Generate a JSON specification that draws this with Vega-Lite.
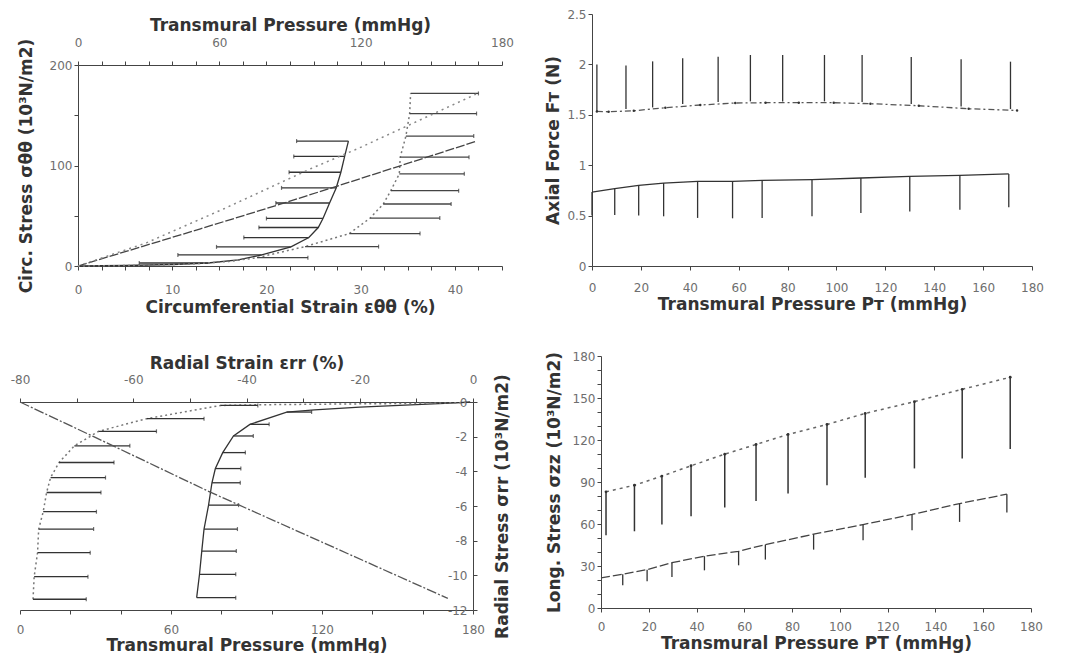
{
  "$schema": "https://vega.github.io/schema/vega-lite/v6.json",
  "background": "white",
  "padding": {"left": 10, "top": 8, "right": 0, "bottom": 0},
  "config": {
    "view": {"stroke": null},
    "axis": {
      "grid": false, "domainColor": "#444", "tickColor": "#444", "tickSize": 4,
      "labelColor": "#6e6e6e", "labelFont": "DejaVu Sans", "labelFontSize": 12,
      "labelOverlap": false, "labelFlush": false,
      "titleFont": "DejaVu Sans", "titleFontSize": 17, "titleFontWeight": "bold", "titleColor": "#333"
    }
  },
  "datasets": {
    "p1A": [
      {"strain": 0, "stress": 0}, {"strain": 5, "stress": 0.5}, {"strain": 10, "stress": 1.5},
      {"strain": 13.8, "stress": 3, "lo": 6.5}, {"strain": 17, "stress": 6},
      {"strain": 19.5, "stress": 11, "lo": 10.6}, {"strain": 22.6, "stress": 19, "lo": 14.7},
      {"strain": 24.5, "stress": 28.3, "lo": 17.6}, {"strain": 25.5, "stress": 38.3, "lo": 19.2},
      {"strain": 26.0, "stress": 47.3, "lo": 20.0}, {"strain": 26.7, "stress": 62.7, "lo": 21.0},
      {"strain": 27.4, "stress": 77.7, "lo": 21.6}, {"strain": 27.9, "stress": 93.3, "lo": 22.4},
      {"strain": 28.3, "stress": 109, "lo": 22.9}, {"strain": 28.7, "stress": 124.3, "lo": 23.2}
    ],
    "p1B": [
      {"strain": 0, "stress": 0}, {"strain": 6, "stress": 0.5}, {"strain": 12, "stress": 2},
      {"strain": 16, "stress": 4.5}, {"strain": 19, "stress": 8.3, "hi": 24.4},
      {"strain": 24.1, "stress": 19.3, "hi": 31.9}, {"strain": 28.8, "stress": 32.3, "hi": 36.3},
      {"strain": 31.0, "stress": 47.7, "hi": 38.4}, {"strain": 32.4, "stress": 61.7, "hi": 39.6},
      {"strain": 33.2, "stress": 75, "hi": 40.4}, {"strain": 34.1, "stress": 91.7, "hi": 41.0},
      {"strain": 34.2, "stress": 108.3, "hi": 41.5}, {"strain": 34.8, "stress": 129.3, "hi": 42.0},
      {"strain": 35.2, "stress": 151.7, "hi": 42.3}, {"strain": 35.3, "stress": 171.7, "hi": 42.5}
    ],
    "p1C": [
      {"p": 0, "stress": 0}, {"p": 52, "stress": 37}, {"p": 88, "stress": 63},
      {"p": 120, "stress": 87}, {"p": 169, "stress": 124}
    ],
    "p1D": [
      {"p": 0, "stress": 0}, {"p": 29, "stress": 23}, {"p": 62, "stress": 57},
      {"p": 99, "stress": 97}, {"p": 119, "stress": 117}, {"p": 169, "stress": 171}
    ],
    "p2U": [
      {"p": 2.0, "f": 1.533}, {"p": 6.8, "f": 1.53}, {"p": 17.1, "f": 1.54}, {"p": 30.0, "f": 1.57},
      {"p": 44.3, "f": 1.597}, {"p": 58.6, "f": 1.617}, {"p": 71.0, "f": 1.62}, {"p": 84.6, "f": 1.62},
      {"p": 98.9, "f": 1.62}, {"p": 113.9, "f": 1.61}, {"p": 133.7, "f": 1.59}, {"p": 154.1, "f": 1.56},
      {"p": 173.9, "f": 1.543}
    ],
    "p2Ubars": [
      {"p": 2.0, "lo": 1.533, "hi": 2.0}, {"p": 13.9, "lo": 1.557, "hi": 1.99},
      {"p": 24.8, "lo": 1.573, "hi": 2.03}, {"p": 37.1, "lo": 1.607, "hi": 2.06},
      {"p": 51.6, "lo": 1.627, "hi": 2.077}, {"p": 64.8, "lo": 1.633, "hi": 2.093},
      {"p": 78.0, "lo": 1.633, "hi": 2.093}, {"p": 95.1, "lo": 1.633, "hi": 2.093},
      {"p": 110.5, "lo": 1.627, "hi": 2.093}, {"p": 130.6, "lo": 1.607, "hi": 2.073},
      {"p": 151.0, "lo": 1.583, "hi": 2.05}, {"p": 171.2, "lo": 1.557, "hi": 2.027}
    ],
    "p2L": [
      {"p": 0, "f": 0.733, "lo": 0.5}, {"p": 9.3, "f": 0.767, "lo": 0.507},
      {"p": 19.1, "f": 0.80, "lo": 0.50}, {"p": 29.3, "f": 0.823, "lo": 0.493},
      {"p": 43.2, "f": 0.84, "lo": 0.477}, {"p": 57.5, "f": 0.84, "lo": 0.473},
      {"p": 69.6, "f": 0.85, "lo": 0.477}, {"p": 90.0, "f": 0.857, "lo": 0.493},
      {"p": 110.0, "f": 0.873, "lo": 0.527}, {"p": 130.0, "f": 0.89, "lo": 0.54},
      {"p": 150.5, "f": 0.90, "lo": 0.557}, {"p": 170.5, "f": 0.913, "lo": 0.583}
    ],
    "p3L": [
      {"strain": -1, "rs": -0.03}, {"strain": -10, "rs": -0.08}, {"strain": -25, "rs": -0.12},
      {"strain": -38, "rs": -0.16}, {"strain": -44.6, "rs": -0.2, "hi": -38},
      {"strain": -57.6, "rs": -0.96, "hi": -47.5}, {"strain": -66.1, "rs": -1.69, "hi": -55.9},
      {"strain": -70.4, "rs": -2.53, "hi": -60.6}, {"strain": -73.1, "rs": -3.49, "hi": -63.4},
      {"strain": -74.6, "rs": -4.36, "hi": -64.9}, {"strain": -75.3, "rs": -5.22, "hi": -65.7},
      {"strain": -75.9, "rs": -6.33, "hi": -66.5}, {"strain": -76.7, "rs": -7.33, "hi": -67.0},
      {"strain": -76.9, "rs": -8.69, "hi": -67.6}, {"strain": -77.5, "rs": -10.08, "hi": -68.0},
      {"strain": -77.7, "rs": -11.38, "hi": -68.3}
    ],
    "p3R": [
      {"strain": -0.5, "rs": 0}, {"strain": -3, "rs": -0.05}, {"strain": -10, "rs": -0.15},
      {"strain": -20, "rs": -0.3}, {"strain": -28, "rs": -0.45},
      {"strain": -32.9, "rs": -0.58, "hi": -28.5}, {"strain": -39.4, "rs": -1.29, "hi": -36.0},
      {"strain": -42.3, "rs": -1.96, "hi": -38.8}, {"strain": -44.2, "rs": -2.92, "hi": -40.2},
      {"strain": -45.5, "rs": -3.84, "hi": -41.0}, {"strain": -46.1, "rs": -4.66, "hi": -41.1},
      {"strain": -46.7, "rs": -5.95, "hi": -41.4}, {"strain": -47.5, "rs": -7.33, "hi": -41.6},
      {"strain": -47.9, "rs": -8.6, "hi": -41.8}, {"strain": -48.3, "rs": -9.94, "hi": -41.9},
      {"strain": -48.8, "rs": -11.29, "hi": -41.9}
    ],
    "p3P": [
      {"p": 0, "rs": 0}, {"p": 29.3, "rs": -2.0}, {"p": 75.6, "rs": -5.2}, {"p": 170, "rs": -11.33}
    ],
    "p4U": [
      {"p": 2.1, "s": 83.0, "lo": 52.0}, {"p": 14.0, "s": 87.7, "lo": 54.8},
      {"p": 25.5, "s": 94.2, "lo": 59.6}, {"p": 37.7, "s": 101.6, "lo": 65.6},
      {"p": 51.8, "s": 109.9, "lo": 71.8}, {"p": 64.9, "s": 116.8, "lo": 76.5},
      {"p": 78.3, "s": 124.0, "lo": 81.8}, {"p": 94.6, "s": 131.1, "lo": 87.7},
      {"p": 110.6, "s": 139.0, "lo": 93.0}, {"p": 131.2, "s": 147.4, "lo": 99.7},
      {"p": 151.2, "s": 156.2, "lo": 106.8}, {"p": 171.3, "s": 164.8, "lo": 113.5}
    ],
    "p4L": [
      {"p": 0, "s": 21.5}, {"p": 9.1, "s": 24.1, "lo": 16.2}, {"p": 19.3, "s": 27.4, "lo": 19.1},
      {"p": 29.7, "s": 32.4, "lo": 22.2}, {"p": 43.3, "s": 37.0, "lo": 26.9},
      {"p": 57.6, "s": 40.5, "lo": 30.5}, {"p": 68.8, "s": 45.3, "lo": 34.6},
      {"p": 89.0, "s": 52.7, "lo": 41.7}, {"p": 109.7, "s": 59.6, "lo": 48.4},
      {"p": 130.2, "s": 66.8, "lo": 55.6}, {"p": 150.1, "s": 74.6, "lo": 61.5},
      {"p": 169.9, "s": 81.3, "lo": 68.2}
    ]
  },
  "columns": 2,
  "spacing": {"row": 35, "column": 30},
  "concat": [
    {
      "width": 482, "height": 252,
      "resolve": {"scale": {"x": "independent"}},
      "layer": [
        {
          "data": {"name": "p1A"},
          "mark": {"type": "line", "color": "#333", "strokeWidth": 1.3},
          "encoding": {
            "x": {"field": "strain", "type": "quantitative", "scale": {"domain": [0, 45], "nice": false, "range": [58, 482]},
              "axis": {"orient": "bottom", "title": "Circumferential Strain εθθ (%)",
                "values": [0,2.5,5,7.5,10,12.5,15,17.5,20,22.5,25,27.5,30,32.5,35,37.5,40,42.5,45],
                "labelExpr": "datum.value % 10 == 0 && datum.value < 45 ? datum.label : ''",
                "labelOverlap": false, "labelPadding": 14, "titlePadding": 4}},
            "y": {"field": "stress", "type": "quantitative", "scale": {"domain": [0, 200], "nice": false, "range": [252, 51]},
              "axis": {"title": "Circ. Stress σθθ (10³N/m2)", "offset": -58,
                "values": [0,25,50,75,100,125,150,175,200],
                "labelExpr": "datum.value % 100 == 0 ? datum.label : ''",
                "labelOverlap": false, "titlePadding": 14}}
          }
        },
        {
          "data": {"name": "p1A"},
          "transform": [{"filter": "isValid(datum.lo)"}],
          "mark": {"type": "rule", "color": "#333", "strokeWidth": 1.3},
          "encoding": {
            "x": {"field": "lo", "type": "quantitative", "scale": {"domain": [0, 45], "nice": false, "range": [58, 482]}, "axis": null},
            "x2": {"field": "strain"},
            "y": {"field": "stress", "type": "quantitative", "scale": {"domain": [0, 200], "nice": false, "range": [252, 51]}}
          }
        },
        {
          "data": {"name": "p1A"},
          "transform": [{"filter": "isValid(datum.lo)"}],
          "mark": {"type": "tick", "orient": "vertical", "size": 4, "thickness": 1.2, "color": "#333"},
          "encoding": {
            "x": {"field": "lo", "type": "quantitative", "scale": {"domain": [0, 45], "nice": false, "range": [58, 482]}, "axis": null},
            "y": {"field": "stress", "type": "quantitative", "scale": {"domain": [0, 200], "nice": false, "range": [252, 51]}}
          }
        },
        {
          "data": {"name": "p1B"},
          "mark": {"type": "line", "color": "#777", "strokeWidth": 1.5, "strokeDash": [2, 3]},
          "encoding": {
            "x": {"field": "strain", "type": "quantitative", "scale": {"domain": [0, 45], "nice": false, "range": [58, 482]}, "axis": null},
            "y": {"field": "stress", "type": "quantitative", "scale": {"domain": [0, 200], "nice": false, "range": [252, 51]}}
          }
        },
        {
          "data": {"name": "p1B"},
          "transform": [{"filter": "isValid(datum.hi)"}],
          "mark": {"type": "rule", "color": "#444", "strokeWidth": 1.3},
          "encoding": {
            "x": {"field": "strain", "type": "quantitative", "scale": {"domain": [0, 45], "nice": false, "range": [58, 482]}, "axis": null},
            "x2": {"field": "hi"},
            "y": {"field": "stress", "type": "quantitative", "scale": {"domain": [0, 200], "nice": false, "range": [252, 51]}}
          }
        },
        {
          "data": {"name": "p1B"},
          "transform": [{"filter": "isValid(datum.hi)"}],
          "mark": {"type": "tick", "orient": "vertical", "size": 4, "thickness": 1.2, "color": "#333"},
          "encoding": {
            "x": {"field": "hi", "type": "quantitative", "scale": {"domain": [0, 45], "nice": false, "range": [58, 482]}, "axis": null},
            "y": {"field": "stress", "type": "quantitative", "scale": {"domain": [0, 200], "nice": false, "range": [252, 51]}}
          }
        },
        {
          "data": {"name": "p1C"},
          "mark": {"type": "line", "color": "#444", "strokeWidth": 1.3, "strokeDash": [9, 2]},
          "encoding": {
            "x": {"field": "p", "type": "quantitative", "scale": {"domain": [0, 180], "nice": false, "range": [58, 482]},
              "axis": {"orient": "top", "title": "Transmural Pressure (mmHg)", "offset": -51,
                "values": [0,10,20,30,40,50,60,70,80,90,100,110,120,130,140,150,160,170,180],
                "labelExpr": "datum.value % 60 == 0 ? datum.label : ''",
                "labelOverlap": false, "labelPadding": 12, "titlePadding": 2}},
            "y": {"field": "stress", "type": "quantitative", "scale": {"domain": [0, 200], "nice": false, "range": [252, 51]}}
          }
        },
        {
          "data": {"name": "p1D"},
          "mark": {"type": "line", "color": "#888", "strokeWidth": 1.5, "strokeDash": [2, 4]},
          "encoding": {
            "x": {"field": "p", "type": "quantitative", "scale": {"domain": [0, 180], "nice": false, "range": [58, 482]}, "axis": null},
            "y": {"field": "stress", "type": "quantitative", "scale": {"domain": [0, 200], "nice": false, "range": [252, 51]}}
          }
        }
      ]
    },
    {
      "width": 440, "height": 252,
      "layer": [
        {
          "data": {"name": "p2L"},
          "mark": {"type": "line", "color": "#333", "strokeWidth": 1.3},
          "encoding": {
            "x": {"field": "p", "type": "quantitative", "scale": {"domain": [0, 180], "nice": false},
              "axis": {"title": "Transmural Pressure Pᴛ (mmHg)",
                "values": [0,10,20,30,40,50,60,70,80,90,100,110,120,130,140,150,160,170,180],
                "labelExpr": "datum.value % 20 == 0 ? datum.label : ''",
                "labelOverlap": false, "labelPadding": 12, "titlePadding": 3}},
            "y": {"field": "f", "type": "quantitative", "scale": {"domain": [0, 2.5], "nice": false},
              "axis": {"title": "Axial Force Fᴛ (N)",
                "values": [0,0.25,0.5,0.75,1,1.25,1.5,1.75,2,2.25,2.5],
                "labelExpr": "datum.value % 0.5 == 0 ? format(datum.value, '~g') : ''",
                "labelOverlap": false, "titlePadding": 4}}
          }
        },
        {
          "data": {"name": "p2L"},
          "mark": {"type": "rule", "color": "#333", "strokeWidth": 1.3},
          "encoding": {
            "x": {"field": "p", "type": "quantitative", "scale": {"domain": [0, 180], "nice": false}},
            "y": {"field": "lo", "type": "quantitative", "scale": {"domain": [0, 2.5], "nice": false}},
            "y2": {"field": "f"}
          }
        },
        {
          "data": {"name": "p2U"},
          "mark": {"type": "line", "color": "#555", "strokeWidth": 1.3, "strokeDash": [6, 3, 2, 3],
            "point": {"filled": true, "size": 6, "color": "#333"}},
          "encoding": {
            "x": {"field": "p", "type": "quantitative", "scale": {"domain": [0, 180], "nice": false}},
            "y": {"field": "f", "type": "quantitative", "scale": {"domain": [0, 2.5], "nice": false}}
          }
        },
        {
          "data": {"name": "p2Ubars"},
          "mark": {"type": "rule", "color": "#333", "strokeWidth": 1.3},
          "encoding": {
            "x": {"field": "p", "type": "quantitative", "scale": {"domain": [0, 180], "nice": false}},
            "y": {"field": "lo", "type": "quantitative", "scale": {"domain": [0, 2.5], "nice": false}},
            "y2": {"field": "hi"}
          }
        }
      ]
    },
    {
      "width": 453, "height": 254,
      "resolve": {"scale": {"x": "independent"}},
      "layer": [
        {
          "data": {"name": "p3R"},
          "mark": {"type": "line", "color": "#333", "strokeWidth": 1.3},
          "encoding": {
            "x": {"field": "strain", "type": "quantitative", "scale": {"domain": [-80, 0], "nice": false},
              "axis": {"orient": "top", "title": "Radial Strain εrr (%)", "offset": -46,
                "values": [-80,-70,-60,-50,-40,-30,-20,-10,0],
                "labelExpr": "datum.value % 20 == 0 ? '' + datum.value : ''",
                "labelOverlap": false, "labelPadding": 12, "titlePadding": 1}},
            "y": {"field": "rs", "type": "quantitative", "scale": {"domain": [-12, 0], "nice": false, "range": [254, 46]},
              "axis": {"orient": "right", "title": "Radial Stress σrr (10³N/m2)",
                "values": [-12,-11,-10,-9,-8,-7,-6,-5,-4,-3,-2,-1,0],
                "labelExpr": "datum.value % 2 == 0 ? '' + datum.value : ''",
                "labelOverlap": false, "labelAlign": "right", "labelPadding": -10,
                "titleAngle": 270, "titleBaseline": "top", "titlePadding": 17}}
          }
        },
        {
          "data": {"name": "p3R"},
          "transform": [{"filter": "isValid(datum.hi)"}],
          "mark": {"type": "rule", "color": "#333", "strokeWidth": 1.3},
          "encoding": {
            "x": {"field": "strain", "type": "quantitative", "scale": {"domain": [-80, 0], "nice": false}, "axis": null},
            "x2": {"field": "hi"},
            "y": {"field": "rs", "type": "quantitative", "scale": {"domain": [-12, 0], "nice": false, "range": [254, 46]}}
          }
        },
        {
          "data": {"name": "p3R"},
          "transform": [{"filter": "isValid(datum.hi)"}],
          "mark": {"type": "tick", "orient": "vertical", "size": 4, "thickness": 1.2, "color": "#333"},
          "encoding": {
            "x": {"field": "hi", "type": "quantitative", "scale": {"domain": [-80, 0], "nice": false}, "axis": null},
            "y": {"field": "rs", "type": "quantitative", "scale": {"domain": [-12, 0], "nice": false, "range": [254, 46]}}
          }
        },
        {
          "data": {"name": "p3L"},
          "mark": {"type": "line", "color": "#777", "strokeWidth": 1.5, "strokeDash": [2, 3]},
          "encoding": {
            "x": {"field": "strain", "type": "quantitative", "scale": {"domain": [-80, 0], "nice": false}, "axis": null},
            "y": {"field": "rs", "type": "quantitative", "scale": {"domain": [-12, 0], "nice": false, "range": [254, 46]}}
          }
        },
        {
          "data": {"name": "p3L"},
          "transform": [{"filter": "isValid(datum.hi)"}],
          "mark": {"type": "rule", "color": "#333", "strokeWidth": 1.3},
          "encoding": {
            "x": {"field": "strain", "type": "quantitative", "scale": {"domain": [-80, 0], "nice": false}, "axis": null},
            "x2": {"field": "hi"},
            "y": {"field": "rs", "type": "quantitative", "scale": {"domain": [-12, 0], "nice": false, "range": [254, 46]}}
          }
        },
        {
          "data": {"name": "p3L"},
          "transform": [{"filter": "isValid(datum.hi)"}],
          "mark": {"type": "tick", "orient": "vertical", "size": 4, "thickness": 1.2, "color": "#333"},
          "encoding": {
            "x": {"field": "hi", "type": "quantitative", "scale": {"domain": [-80, 0], "nice": false}, "axis": null},
            "y": {"field": "rs", "type": "quantitative", "scale": {"domain": [-12, 0], "nice": false, "range": [254, 46]}}
          }
        },
        {
          "data": {"name": "p3P"},
          "mark": {"type": "line", "color": "#555", "strokeWidth": 1.3, "strokeDash": [10, 2, 2, 2]},
          "encoding": {
            "x": {"field": "p", "type": "quantitative", "scale": {"domain": [0, 180], "nice": false},
              "axis": {"orient": "bottom", "title": "Transmural Pressure (mmHg)",
                "values": [0,20,40,60,80,100,120,140,160,180],
                "labelExpr": "datum.value % 60 == 0 ? datum.label : ''",
                "labelOverlap": false, "labelPadding": 10, "titlePadding": 2}},
            "y": {"field": "rs", "type": "quantitative", "scale": {"domain": [-12, 0], "nice": false, "range": [254, 46]}}
          }
        }
      ]
    },
    {
      "width": 439, "height": 252,
      "resolve": {"scale": {"y": "independent"}},
      "layer": [
        {
          "data": {"name": "p4L"},
          "mark": {"type": "line", "color": "#444", "strokeWidth": 1.3, "strokeDash": [9, 3]},
          "encoding": {
            "x": {"field": "p", "type": "quantitative", "scale": {"domain": [0, 180], "nice": false, "range": [9, 439]},
              "axis": {"title": "Transmural Pressure PT (mmHg)",
                "values": [0,10,20,30,40,50,60,70,80,90,100,110,120,130,140,150,160,170,180],
                "labelExpr": "datum.value % 20 == 0 ? datum.label : ''",
                "labelOverlap": false, "labelPadding": 9, "titlePadding": 3}},
            "y": {"field": "s", "type": "quantitative", "scale": {"domain": [0, 180], "nice": false},
              "axis": {"orient": "left", "title": "Long. Stress σzz (10³N/m2)", "offset": -9,
                "values": [0,30,60,90,120,150,180],
                "labelOverlap": false, "titlePadding": 9}}
          }
        },
        {
          "data": {"name": "p4L"},
          "transform": [{"filter": "isValid(datum.lo)"}],
          "mark": {"type": "rule", "color": "#333", "strokeWidth": 1.3},
          "encoding": {
            "x": {"field": "p", "type": "quantitative", "scale": {"domain": [0, 180], "nice": false, "range": [9, 439]}},
            "y": {"field": "lo", "type": "quantitative", "scale": {"domain": [0, 180], "nice": false},
              "axis": {"orient": "left", "offset": -9, "title": null, "labels": false, "domain": false,
                "values": [10,20,40,50,70,80,100,110,130,140,160,170]}},
            "y2": {"field": "s"}
          }
        },
        {
          "data": {"name": "p4U"},
          "mark": {"type": "line", "color": "#666", "strokeWidth": 1.5, "strokeDash": [3, 4],
            "point": {"filled": true, "size": 8, "color": "#333"}},
          "encoding": {
            "x": {"field": "p", "type": "quantitative", "scale": {"domain": [0, 180], "nice": false, "range": [9, 439]}},
            "y": {"field": "s", "type": "quantitative", "scale": {"domain": [0, 180], "nice": false}, "axis": null}
          }
        },
        {
          "data": {"name": "p4U"},
          "mark": {"type": "rule", "color": "#333", "strokeWidth": 1.5},
          "encoding": {
            "x": {"field": "p", "type": "quantitative", "scale": {"domain": [0, 180], "nice": false, "range": [9, 439]}},
            "y": {"field": "lo", "type": "quantitative", "scale": {"domain": [0, 180], "nice": false}, "axis": null},
            "y2": {"field": "s"}
          }
        }
      ]
    }
  ]
}
